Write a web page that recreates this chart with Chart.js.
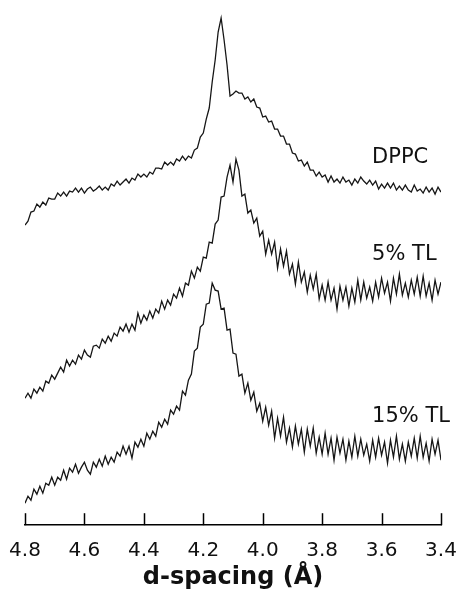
<!DOCTYPE html>
<html>
<head>
<meta charset="utf-8">
<script src="https://cdn.jsdelivr.net/npm/chart.js@4.4.0/dist/chart.umd.min.js"></script>
<style>
  html, body { margin: 0; padding: 0; background: #fff; }
  #wrap { width: 458px; height: 592px; }
</style>
</head>
<body>
<div id="wrap"><canvas id="myChart" width="458" height="592"></canvas></div>
<script>
// d-spacing grid (Angstrom)
var dSpacing = [
    4.80,4.79,4.78,4.77,4.76,4.75,4.74,4.73,4.72,4.71,
    4.70,4.69,4.68,4.67,4.66,4.65,4.64,4.63,4.62,4.61,
    4.60,4.59,4.58,4.57,4.56,4.55,4.54,4.53,4.52,4.51,
    4.50,4.49,4.48,4.47,4.46,4.45,4.44,4.43,4.42,4.41,
    4.40,4.39,4.38,4.37,4.36,4.35,4.34,4.33,4.32,4.31,
    4.30,4.29,4.28,4.27,4.26,4.25,4.24,4.23,4.22,4.21,
    4.20,4.19,4.18,4.17,4.16,4.15,4.14,4.13,4.12,4.11,
    4.10,4.09,4.08,4.07,4.06,4.05,4.04,4.03,4.02,4.01,
    4.00,3.99,3.98,3.97,3.96,3.95,3.94,3.93,3.92,3.91,
    3.90,3.89,3.88,3.87,3.86,3.85,3.84,3.83,3.82,3.81,
    3.80,3.79,3.78,3.77,3.76,3.75,3.74,3.73,3.72,3.71,
    3.70,3.69,3.68,3.67,3.66,3.65,3.64,3.63,3.62,3.61,
    3.60,3.59,3.58,3.57,3.56,3.55,3.54,3.53,3.52,3.51,
    3.50,3.49,3.48,3.47,3.46,3.45,3.44,3.43,3.42,3.41,
    3.40
];

// stacked intensities (arbitrary units, traces offset as in the figure)
var dppc = [
    300,304,313,314,321,318,323,320,327,326,
    326,332,329,333,329,334,333,337,333,337,
    332,336,338,334,336,339,335,338,335,341,
    339,344,340,343,346,342,347,345,351,348,
    351,348,353,351,357,357,356,363,360,363,
    360,366,364,369,365,369,367,375,377,388,
    392,406,417,443,465,493,507,485,460,429,
    431,434,432,432,426,428,423,426,418,417,
    408,409,403,404,396,396,389,389,381,381,
    372,371,364,365,359,363,355,355,349,353,
    348,350,343,349,343,346,342,348,343,345,
    340,346,342,348,344,341,345,340,344,336,
    341,337,342,337,342,335,339,335,340,335,
    333,340,334,336,332,338,333,337,331,338,
    333
];
var tl5 = [
    127,132,127,136,132,138,134,144,142,150,
    146,152,158,153,165,159,165,161,170,166,
    175,170,168,179,180,177,186,182,189,184,
    192,189,198,194,201,193,201,195,212,202,
    210,205,214,207,216,212,224,216,225,220,
    231,227,237,229,242,240,254,247,258,254,
    268,267,283,282,301,305,328,329,348,360,
    343,366,355,329,331,312,315,302,307,289,
    294,271,285,271,283,257,276,259,274,251,
    261,241,263,243,253,233,250,236,251,226,
    240,225,243,225,237,216,239,225,238,219,
    237,223,245,225,243,227,238,224,243,228,
    247,232,243,224,247,231,251,230,242,228,
    245,231,248,229,249,229,242,225,245,231,
    243
];
var tl15 = [
    22,29,25,36,31,39,32,42,40,48,
    40,48,45,55,46,57,53,61,52,58,
    63,55,51,63,58,66,59,69,61,68,
    63,73,69,79,71,79,67,83,78,86,
    79,92,86,94,89,103,98,106,101,115,
    111,119,115,134,130,145,151,174,177,198,
    201,221,222,242,235,234,216,217,195,196,
    172,171,149,151,132,142,125,133,114,122,
    104,118,100,114,87,107,89,108,83,97,
    78,99,81,96,73,96,79,97,72,88,
    71,92,71,87,65,88,72,86,65,84,
    68,89,69,86,70,81,64,85,68,87,
    70,83,62,85,68,89,66,81,64,83,
    69,87,67,89,68,82,64,86,71,85,
    65
];

var traceNames = ['DPPC', '5% TL', '15% TL'];
var traces = [dppc, tl5, tl15];

function toPoints(values) {
    return values.map(function (v, i) { return {x: dSpacing[i], y: v}; });
}

// short inward tick marks + curve names
var decorations = {
    id: 'decorations',
    afterDraw: function (chart) {
        var ctx = chart.ctx;
        var xs = chart.scales.x, ys = chart.scales.y;
        var bottom = chart.chartArea.bottom;
        ctx.save();
        ctx.strokeStyle = '#000';
        ctx.lineWidth = 1.5;
        xs.ticks.forEach(function (t, i) {
            var px = Math.round(xs.getPixelForTick(i)) + 0.5;
            ctx.beginPath();
            ctx.moveTo(px, bottom);
            ctx.lineTo(px, bottom - 12);
            ctx.stroke();
        });
        // labels sit to the right of each trace
        var anchors = [[3.632, 362], [3.632, 265], [3.632, 103]];
        ctx.fillStyle = '#111';
        ctx.font = '21px "DejaVu Sans"';
        ctx.textAlign = 'left';
        ctx.textBaseline = 'alphabetic';
        traceNames.forEach(function (name, i) {
            ctx.fillText(name, xs.getPixelForValue(anchors[i][0]), ys.getPixelForValue(anchors[i][1]));
        });
        ctx.restore();
    }
};

var ctx = document.getElementById('myChart');
var myChart = new Chart(ctx, {
    type: 'line',
    data: {
        datasets: traces.map(function (vals, i) {
            return {
                label: traceNames[i],
                data: toPoints(vals),
                borderColor: '#161616',
                borderWidth: 1.3,
                pointRadius: 0,
                tension: 0,
                fill: false
            };
        })
    },
    options: {
        responsive: false,
        animation: false,
        devicePixelRatio: 1,
        layout: {
            padding: {left: 25, right: 17, top: 0, bottom: 0}
        },
        plugins: {
            legend: {display: false},
            tooltip: {enabled: false}
        },
        events: [],
        scales: {
            x: {
                type: 'linear',
                reverse: true,
                min: 3.4,
                max: 4.8,
                afterFit: function (scale) {
                    // let the layout padding alone decide the plot edges
                    scale.paddingLeft = 0;
                    scale.paddingRight = 0;
                },
                grid: {
                    display: false,
                    drawTicks: false
                },
                border: {
                    display: true,
                    color: '#000',
                    width: 1.5
                },
                ticks: {
                    stepSize: 0.2,
                    padding: 14,
                    color: '#111',
                    font: {family: 'DejaVu Sans', size: 20},
                    callback: function (value) {
                        return value.toFixed(1);
                    }
                },
                title: {
                    display: true,
                    text: 'd-spacing (Å)',
                    color: '#111',
                    font: {family: 'DejaVu Sans', size: 24, weight: 'bold'},
                    padding: {top: -14, bottom: 0}
                }
            },
            y: {
                display: false,
                min: 0,
                max: 525
            }
        }
    },
    plugins: [decorations]
});
</script>
</body>
</html>
